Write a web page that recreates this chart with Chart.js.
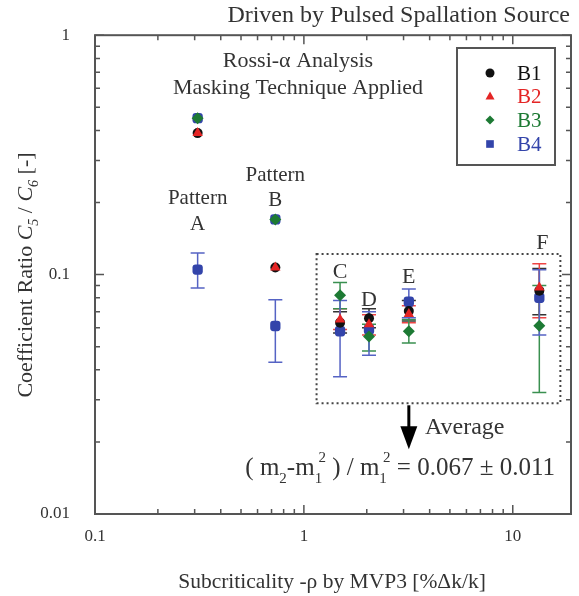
<!DOCTYPE html>
<html>
<head>
<meta charset="utf-8">
<script src="https://cdn.jsdelivr.net/npm/chart.js@4.4.1/dist/chart.umd.min.js"></script>
<style>
html, body { margin: 0; padding: 0; background: #fff; }
</style>
</head>
<body>
<canvas id="ratio-chart" width="579" height="596"></canvas>
<script>
// patterns A..F, x = subcriticality [%dk/k]
var patternNames = ['A', 'B', 'C', 'D', 'E', 'F'];
var patternX = [0.31, 0.73, 1.49, 2.05, 3.18, 13.4];

var b1Y  = [0.39, 0.107, 0.063, 0.0657, 0.0705, 0.0857];
var b1Lo = [null, null, 0.057, 0.060, 0.064, 0.068];
var b1Hi = [null, null, 0.070, 0.072, 0.078, 0.106];

var b2Y  = [0.39, 0.107, 0.065, 0.062, 0.0685, 0.0884];
var b2Lo = [null, null, 0.059, 0.056, 0.063, 0.066];
var b2Hi = [null, null, 0.072, 0.068, 0.0741, 0.111];

var b3Y  = [0.45, 0.17, 0.082, 0.0552, 0.058, 0.0611];
var b3Lo = [null, null, 0.072, 0.048, 0.0518, 0.0322];
var b3Hi = [null, null, 0.0927, 0.062, 0.065, 0.090];

var b4Y  = [0.105, 0.061, 0.058, 0.059, 0.077, 0.080];
var b4Lo = [0.088, 0.043, 0.0374, 0.046, 0.066, 0.0559];
var b4Hi = [0.123, 0.0785, 0.078, 0.070, 0.087, 0.1047];
// B4 points hidden behind B3 for patterns A and B
var b4HiddenY = [0.45, 0.17];

var xTickLabels = [0.1, 1, 10];
var yTickLabels = [0.01, 0.1, 1];

var serif = '"Liberation Serif", "DejaVu Serif", serif';
var textColor = '#333';
var axisColor = '#555';

function points(ys, lo, hi) {
	return ys.map(function (y, i) {
		return { x: patternX[i], y: y, lo: lo[i], hi: hi[i] };
	});
}

var b4Points = points(b4Y, b4Lo, b4Hi).concat(b4HiddenY.map(function (y, i) {
	return { x: patternX[i], y: y, lo: null, hi: null };
}));

function isPow10(v) {
	var l = Math.log10(v);
	return Math.abs(l - Math.round(l)) < 1e-6;
}
function isLogTick(v) {
	var m = v / Math.pow(10, Math.floor(Math.log10(v) + 1e-9));
	return Math.abs(m - Math.round(m)) < 1e-6;
}

// error bars drawn below the markers
var errorBars = {
	id: 'errorBars',
	beforeDatasetsDraw: function (chart) {
		var ctx = chart.ctx, xs = chart.scales.x, ys = chart.scales.y;
		ctx.save();
		chart.data.datasets.forEach(function (ds) {
			ctx.strokeStyle = ds.errColor;
			ctx.lineWidth = 1.5;
			ds.data.forEach(function (d) {
				if (d.lo == null) return;
				var px = xs.getPixelForValue(d.x);
				var top = ys.getPixelForValue(d.hi), bot = ys.getPixelForValue(d.lo);
				ctx.beginPath();
				ctx.moveTo(px, top); ctx.lineTo(px, bot);
				ctx.moveTo(px - 7, top); ctx.lineTo(px + 7, top);
				ctx.moveTo(px - 7, bot); ctx.lineTo(px + 7, bot);
				ctx.stroke();
			});
		});
		ctx.restore();
	}
};

function drawRuns(ctx, x, y, runs) {
	runs.forEach(function (r) {
		ctx.font = r.f;
		ctx.fillText(r.t, x, y + (r.dy || 0));
		if (!r.stack) x += ctx.measureText(r.t).width;
	});
	return x;
}
function runsWidth(ctx, runs) {
	var w = 0;
	runs.forEach(function (r) {
		ctx.font = r.f;
		if (!r.stack) w += ctx.measureText(r.t).width;
	});
	return w;
}

function marker(ctx, style, x, y, r, color) {
	ctx.fillStyle = color;
	ctx.beginPath();
	if (style === 'circle') {
		ctx.arc(x, y, r, 0, Math.PI * 2);
	} else if (style === 'triangle') {
		ctx.moveTo(x, y - r); ctx.lineTo(x + r, y + r * 0.8); ctx.lineTo(x - r, y + r * 0.8);
	} else if (style === 'diamond') {
		ctx.moveTo(x, y - r); ctx.lineTo(x + r, y); ctx.lineTo(x, y + r); ctx.lineTo(x - r, y);
	} else {
		ctx.rect(x - r * 0.85, y - r * 0.85, r * 1.7, r * 1.7);
	}
	ctx.closePath();
	ctx.fill();
}

var frame = {
	id: 'frame',
	afterDraw: function (chart) {
		var ctx = chart.ctx, a = chart.chartArea;
		var xs = chart.scales.x, ys = chart.scales.y;
		ctx.save();

		// box + inward ticks on all four sides
		ctx.strokeStyle = axisColor;
		ctx.lineWidth = 2;
		ctx.strokeRect(a.left, a.top, a.right - a.left, a.bottom - a.top);
		ctx.lineWidth = 1.5;
		ctx.beginPath();
		xs.ticks.forEach(function (t) {
			if (!isLogTick(t.value)) return;
			var px = xs.getPixelForValue(t.value);
			var len = isPow10(t.value) ? 9 : 5;
			ctx.moveTo(px, a.bottom); ctx.lineTo(px, a.bottom - len);
			ctx.moveTo(px, a.top); ctx.lineTo(px, a.top + len);
		});
		ys.ticks.forEach(function (t) {
			if (!isLogTick(t.value)) return;
			var py = ys.getPixelForValue(t.value);
			var len = isPow10(t.value) ? 9 : 5;
			ctx.moveTo(a.left, py); ctx.lineTo(a.left + len, py);
			ctx.moveTo(a.right, py); ctx.lineTo(a.right - len, py);
		});
		ctx.stroke();

		ctx.fillStyle = textColor;
		ctx.textBaseline = 'middle';

		// title
		ctx.font = '24px ' + serif;
		ctx.textAlign = 'right';
		ctx.fillText('Driven by Pulsed Spallation Source', 570, 16);

		// x axis title
		ctx.font = '21.5px ' + serif;
		ctx.textAlign = 'center';
		ctx.fillText('Subcriticality -\u03C1 by MVP3 [%\u0394k/k]', 332, 582);

		// y axis title with italic C and subscripts
		var yRuns = [
			{ t: 'Coefficient Ratio ', f: '22px ' + serif },
			{ t: 'C', f: 'italic 22px ' + serif },
			{ t: '5', f: 'italic 14px ' + serif, dy: 8 },
			{ t: ' / ', f: '22px ' + serif },
			{ t: 'C', f: 'italic 22px ' + serif },
			{ t: '6', f: 'italic 14px ' + serif, dy: 8 },
			{ t: ' [-]', f: '22px ' + serif }
		];
		ctx.save();
		ctx.translate(26, 275);
		ctx.rotate(-Math.PI / 2);
		ctx.textAlign = 'left';
		drawRuns(ctx, -runsWidth(ctx, yRuns) / 2, 0, yRuns);
		ctx.restore();

		// analysis note
		ctx.font = '22px ' + serif;
		ctx.textAlign = 'center';
		ctx.fillText('Rossi-\u03B1 Analysis', 298, 61);
		ctx.fillText('Masking Technique Applied', 298, 88);

		// pattern labels
		ctx.font = '21px ' + serif;
		var pa = xs.getPixelForValue(patternX[0]), pb = xs.getPixelForValue(patternX[1]);
		ctx.fillText('Pattern', pa, 198);
		ctx.fillText('A', pa, 224);
		ctx.fillText('Pattern', pb, 175);
		ctx.fillText('B', pb, 200);
		ctx.font = '22px ' + serif;
		var labelY = [0, 0, 272, 300, 277, 243];
		for (var i = 2; i < patternNames.length; i++) {
			ctx.fillText(patternNames[i], xs.getPixelForValue(patternX[i]) + (i === 5 ? 3 : 0), labelY[i]);
		}

		// dotted box around C..F
		ctx.strokeStyle = '#444';
		ctx.lineWidth = 2;
		ctx.setLineDash([2, 3]);
		var bx1 = xs.getPixelForValue(1.15), bx2 = xs.getPixelForValue(16.9);
		var by1 = ys.getPixelForValue(0.122), by2 = ys.getPixelForValue(0.029);
		ctx.strokeRect(bx1, by1, bx2 - bx1, by2 - by1);
		ctx.setLineDash([]);

		// arrow to the average
		var ax = xs.getPixelForValue(3.18);
		ctx.strokeStyle = '#000';
		ctx.lineWidth = 3;
		ctx.beginPath();
		ctx.moveTo(ax, by2 + 2); ctx.lineTo(ax, by2 + 28);
		ctx.stroke();
		ctx.fillStyle = '#000';
		ctx.beginPath();
		ctx.moveTo(ax - 8.5, by2 + 23); ctx.lineTo(ax + 8.5, by2 + 23); ctx.lineTo(ax, by2 + 46);
		ctx.closePath();
		ctx.fill();

		ctx.fillStyle = textColor;
		ctx.font = '24px ' + serif;
		ctx.textAlign = 'left';
		ctx.fillText('Average', 425, 428);

		var f = '25px ' + serif, s = '15px ' + serif;
		var fRuns = [
			{ t: '( m', f: f },
			{ t: '2', f: s, dy: 11 },
			{ t: '-m', f: f },
			{ t: '1', f: s, dy: 11, stack: true },
			{ t: ' 2', f: s, dy: -10 },
			{ t: ' ) / m', f: f },
			{ t: '1', f: s, dy: 11, stack: true },
			{ t: ' 2', f: s, dy: -10 },
			{ t: ' = 0.067 \u00B1 0.011', f: f }
		];
		drawRuns(ctx, 555 - runsWidth(ctx, fRuns), 468, fRuns);

		// legend
		ctx.strokeStyle = axisColor;
		ctx.lineWidth = 2;
		ctx.strokeRect(457, 48, 98, 117);
		var legend = [
			['B1', 'circle', '#111'],
			['B2', 'triangle', '#e42525'],
			['B3', 'diamond', '#1d7a34'],
			['B4', 'square', '#3344aa']
		];
		var legY = [73, 96, 120, 144];
		ctx.font = '21px ' + serif;
		legend.forEach(function (l, i) {
			marker(ctx, l[1], 490, legY[i], 4.5, l[2]);
			ctx.fillStyle = l[2];
			ctx.fillText(l[0], 517, legY[i] + 1);
		});

		ctx.restore();
	}
};

var tickFont = { family: serif, size: 17 };

new Chart(document.getElementById('ratio-chart'), {
	type: 'scatter',
	data: {
		datasets: [{
			label: 'B1',
			data: points(b1Y, b1Lo, b1Hi),
			order: 2,
			pointStyle: 'circle', pointRadius: 5,
			backgroundColor: '#111', borderColor: '#111', borderWidth: 0,
			errColor: '#333'
		}, {
			label: 'B2',
			data: points(b2Y, b2Lo, b2Hi),
			order: 0,
			pointStyle: 'triangle', pointRadius: 6,
			backgroundColor: '#e42525', borderColor: '#e42525', borderWidth: 0,
			errColor: '#ee4444'
		}, {
			label: 'B3',
			data: points(b3Y, b3Lo, b3Hi),
			order: 1,
			pointStyle: 'rectRot', pointRadius: 6,
			backgroundColor: '#1d7a34', borderColor: '#1d7a34', borderWidth: 0,
			errColor: '#3a9050'
		}, {
			label: 'B4',
			data: b4Points,
			order: 3,
			pointStyle: 'rectRounded', pointRadius: 6,
			backgroundColor: '#3344aa', borderColor: '#3344aa', borderWidth: 0,
			errColor: '#5563c4'
		}]
	},
	options: {
		responsive: false,
		animation: false,
		layout: { padding: { left: 0, right: 8, top: 33, bottom: 0 } },
		plugins: { legend: { display: false }, tooltip: { enabled: false } },
		scales: {
			x: {
				type: 'logarithmic',
				min: 0.1, max: 19,
				grid: { display: false, drawTicks: false },
				border: { display: false },
				ticks: {
					padding: 12, font: tickFont, color: textColor,
					autoSkip: false, maxRotation: 0,
					callback: function (v) { return xTickLabels.indexOf(v) >= 0 ? String(v) : ''; }
				},
				afterFit: function (s) {
					s.height = 82;
					s.paddingLeft = 0;
					s.paddingRight = 0;
				}
			},
			y: {
				type: 'logarithmic',
				min: 0.01, max: 1,
				grid: { display: false, drawTicks: false },
				border: { display: false },
				ticks: {
					padding: 25, font: tickFont, color: textColor,
					autoSkip: false,
					callback: function (v) { return yTickLabels.indexOf(v) >= 0 ? String(v) : ''; }
				},
				afterFit: function (s) { s.width = 95; }
			}
		}
	},
	plugins: [errorBars, frame]
});
</script>
</body>
</html>
